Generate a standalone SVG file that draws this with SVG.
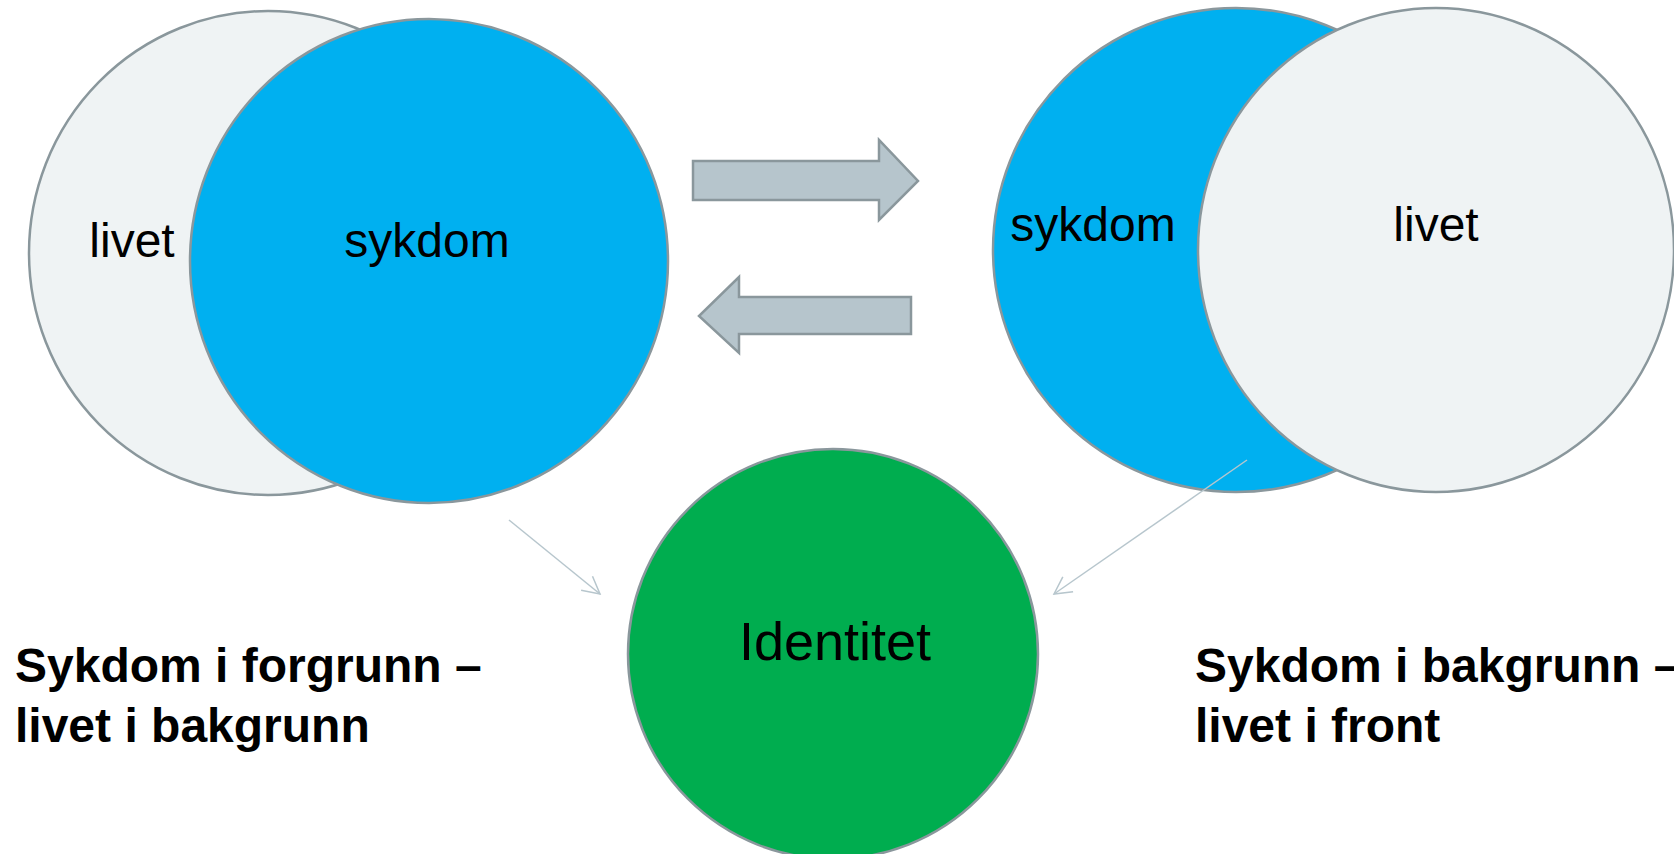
<svg xmlns="http://www.w3.org/2000/svg" width="1674" height="854" viewBox="0 0 1674 854">
  <style>
    .life { fill: #eff3f4; stroke: #8a979c; stroke-width: 2.5; }
    .illness { fill: #00b0f0; stroke: #8a979c; stroke-width: 2.5; }
    .identity { fill: #00ad4f; stroke: #8a979c; stroke-width: 2.5; }
    .shift { fill: #b6c5cc; stroke: #8a979c; stroke-width: 2.5; stroke-linejoin: miter; }
    .link { fill: none; stroke: #b7c6cd; stroke-width: 1.5; }
    .label { font-family: "Liberation Sans", Arial, sans-serif; font-size: 48px; fill: #000; }
    .title { font-family: "Liberation Sans", Arial, sans-serif; font-size: 48px; font-weight: bold; fill: #000; }
  </style>
  <defs>
    <marker id="open-head" markerUnits="userSpaceOnUse" markerWidth="40" markerHeight="40" viewBox="-20 -20 40 40" refX="0" refY="0" orient="auto">
      <path d="M-17,-9 L0,0 L-17,9" fill="none" stroke="#b7c6cd" stroke-width="1.5"/>
    </marker>
  </defs>

  <!-- Left pair: illness in the foreground -->
  <g id="left-pair">
    <ellipse class="life" cx="268" cy="253" rx="239" ry="242"/>
    <ellipse class="illness" cx="429" cy="261" rx="239" ry="242"/>
    <text class="label" x="132" y="257" text-anchor="middle">livet</text>
    <text class="label" x="427" y="257" text-anchor="middle">sykdom</text>
  </g>

  <!-- Right pair: life in the foreground -->
  <g id="right-pair">
    <ellipse class="illness" cx="1236" cy="250" rx="243" ry="242"/>
    <ellipse class="life" cx="1436" cy="250" rx="238" ry="242"/>
    <text class="label" x="1093" y="241" text-anchor="middle">sykdom</text>
    <text class="label" x="1436" y="241" text-anchor="middle">livet</text>
  </g>

  <!-- Shift arrows between the two states -->
  <g id="shift-right">
    <polygon class="shift" points="693,161 879,161 879,140 918,181 879,220 879,200 693,200"/>
  </g>
  <g id="shift-left">
    <polygon class="shift" points="911,297 739,297 739,277 699,316 739,353 739,334 911,334"/>
  </g>

  <!-- Identity -->
  <g id="identity">
    <circle class="identity" cx="833" cy="654" r="205"/>
    <text class="label" x="835" y="660" text-anchor="middle" style="font-size:54px">Identitet</text>
  </g>

  <!-- Connectors into identity -->
  <g id="connectors">
    <line class="link" x1="509" y1="520" x2="600" y2="594" marker-end="url(#open-head)"/>
    <line class="link" x1="1247" y1="460" x2="1054" y2="594" marker-end="url(#open-head)"/>
  </g>

  <!-- Captions -->
  <g id="caption-left">
    <text class="title" x="15" y="682">Sykdom i forgrunn –</text>
    <text class="title" x="15" y="742">livet i bakgrunn</text>
  </g>
  <g id="caption-right">
    <text class="title" x="1195" y="682">Sykdom i bakgrunn –</text>
    <text class="title" x="1195" y="742">livet i front</text>
  </g>
</svg>
